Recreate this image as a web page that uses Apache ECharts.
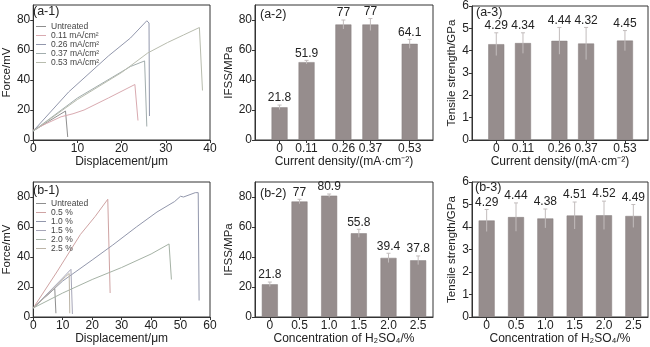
<!DOCTYPE html>
<html><head><meta charset="utf-8">
<script src="https://cdn.jsdelivr.net/npm/echarts@6/dist/echarts.min.js"></script>
<style>html,body{margin:0;padding:0;background:#fff}#c{width:650px;height:347px}</style>
</head><body><div id="c"></div>
<script>
// ---- (a-1) force-displacement curves, current density series ----
var aNames = ['Untreated', '0.11 mA/cm²', '0.26 mA/cm²', '0.37 mA/cm²', '0.53 mA/cm²'];
var aUntreated = [[0,6],[3.5,12.5],[7.3,19.3],[7.6,19],[7.8,2]];
var a011 = [[0,6.7],[3,11],[6.3,15.5],[9,17.5],[11.5,20],[17,28],[23,37],[23.3,36.5],[23.7,13]];
var a026 = [[0,6],[8,32],[17,56],[22,68],[25.7,79.5],[26.2,78],[26.3,16]];
var a037 = [[0,6],[10,28],[18,42],[22,49],[25.2,52.7],[25.5,52],[25.7,9]];
var a053 = [[0,6],[10,27],[20,45],[25.9,58],[30.4,65],[34,70],[37.6,75],[38,74],[38.3,33]];
// ---- (b-1) force-displacement curves, H2SO4 concentration series ----
var bNames = ['Untreated', '0.5 %', '1.0 %', '1.5 %', '2.0 %', '2.5 %'];
var bUntreated = [[0,6],[3.5,12.5],[7.3,19],[7.5,18.5],[7.7,2.5]];
var b05 = [[0,6],[8,30],[16,55],[21,67],[25.3,78.5],[25.8,78],[26.1,16]];
var b10 = [[0,6],[10,24],[20,38],[27,48],[35,60],[42,70],[48,77],[50,80.5],[51,80],[55,82.9],[56,82.9],[56.3,11]];
var b15 = [[0,6],[5,16],[10,26],[12.8,31.8],[13.1,31],[13.3,2]];
var b20 = [[0,6],[10,16],[20,25],[30,33],[40,42],[46.1,48.7],[46.5,48],[46.9,25]];
var b25 = [[0,6],[6,17],[11,27],[12.2,29],[12.4,2.5]];
// ---- (a-2)/(a-3) bars vs current density ----
var currentDensity = [0, 0.11, 0.26, 0.37, 0.53];
var ifssA = [21.8, 51.9, 77, 77, 64.1];
var ifssAErr = [1.5, 1.2, 3, 4, 3];
var tensileA = [4.29, 4.34, 4.44, 4.32, 4.45];
var tensileAErr = [0.51, 0.46, 0.6, 0.72, 0.45];
// ---- (b-2)/(b-3) bars vs H2SO4 concentration ----
var concentration = ['0', '0.5', '1.0', '1.5', '2.0', '2.5'];
var ifssB = [21.8, 77, 80.9, 55.8, 39.4, 37.8];
var ifssBErr = [1.5, 1.5, 1.1, 2.7, 3.1, 2.9];
var tensileB = [4.29, 4.44, 4.38, 4.51, 4.52, 4.49];
var tensileBErr = [0.49, 0.63, 0.42, 0.6, 0.63, 0.51];

var FONT = 'Liberation Sans';
var AX = '#333';
var aColors = ['#8e8e8e', '#d9aab0', '#9297ac', '#a2adad', '#b8bcae'];
var bColors = ['#8e8e8e', '#cfa3a3', '#9297ac', '#a6a6b8', '#a5b2a5', '#bcb4a6'];
var BAR = '#968d8d';

function xAx(grid, type, min, max, interval, name, extra) {
  var o = {
    gridIndex: grid, type: type, min: min, max: max, interval: interval,
    name: name, nameLocation: 'middle', nameGap: 16,
    nameTextStyle: {fontFamily: FONT, fontSize: 12, color: '#222'},
    axisLine: {show: true, onZero: false, lineStyle: {color: AX, width: 1}},
    axisTick: {show: true, inside: false, length: 3, lineStyle: {color: AX}},
    axisLabel: {fontFamily: FONT, fontSize: 12, color: '#222', margin: 3},
    splitLine: {show: false}
  };
  for (var k in extra) o[k] = extra[k];
  return o;
}
function yAx(grid, max, interval, name, gap, showMax) {
  return {
    gridIndex: grid, type: 'value', min: 0, max: max, interval: interval,
    name: name, nameLocation: 'middle', nameGap: gap,
    nameTextStyle: {fontFamily: FONT, fontSize: 11.5, color: '#222'},
    axisLine: {show: true, onZero: false, lineStyle: {color: AX, width: 1}},
    axisTick: {show: true, inside: false, length: 3, lineStyle: {color: AX}},
    axisLabel: {fontFamily: FONT, fontSize: 12, color: '#222', margin: 3, showMaxLabel: showMax},
    splitLine: {show: false}
  };
}

function errRender(vals, errs) {
  return function (params, api) {
    var i = params.dataIndex;
    var x = api.value(0), m = api.value(1), e = api.value(2);
    var top = api.coord([x, m + e]), bot = api.coord([x, m - e]);
    var st = {stroke: '#c2bcbc', lineWidth: 1};
    return {type: 'group', children: [
      {type: 'line', shape: {x1: top[0], y1: top[1], x2: bot[0], y2: bot[1]}, style: st},
      {type: 'line', shape: {x1: top[0] - 2, y1: top[1], x2: top[0] + 2, y2: top[1]}, style: st},
      {type: 'text', x: top[0], y: top[1] - 1, style: {text: String(vals[i]), align: 'center', verticalAlign: 'bottom', fontSize: 12, fontFamily: FONT, fill: '#222'}}
    ]};
  };
}

var grids = [
  {left: 30, top: 5, width: 180, height: 135},
  {left: 255, top: 5, width: 178, height: 135},
  {left: 472, top: 5, width: 176, height: 135},
  {left: 30, top: 182, width: 180, height: 135},
  {left: 255, top: 182, width: 178, height: 135},
  {left: 472, top: 182, width: 176, height: 135}
].map(function (g) { g.show = true; g.borderColor = AX; g.borderWidth = 1; g.backgroundColor = 'transparent'; return g; });

var cdExtra = {
  axisLabel: {fontFamily: FONT, fontSize: 12, color: '#222', margin: 3, customValues: currentDensity, formatter: function (v) { return String(v); }},
  axisTick: {show: true, length: 3, lineStyle: {color: AX}, customValues: currentDensity}
};
var catTick = {show: true, length: 3, alignWithLabel: true, lineStyle: {color: AX}};

var xAxes = [
  xAx(0, 'value', 0, 40, 10, 'Displacement/μm', {}),
  xAx(1, 'value', -0.1, 0.625, null, 'Current density/(mA·cm⁻²)', cdExtra),
  xAx(2, 'value', -0.1, 0.625, null, 'Current density/(mA·cm⁻²)', cdExtra),
  xAx(3, 'value', 0, 60, 10, 'Displacement/μm', {}),
  xAx(4, 'category', null, null, null, 'Concentration of H₂SO₄/%', {data: concentration, axisTick: catTick}),
  xAx(5, 'category', null, null, null, 'Concentration of H₂SO₄/%', {data: concentration, axisTick: catTick})
];
var yAxes = [
  yAx(0, 90, 20, 'Force/mV', 17, false),
  yAx(1, 90, 20, 'IFSS/MPa', 18, false),
  yAx(2, 6, 1, 'Tensile strength/GPa', 14, true),
  yAx(3, 90, 20, 'Force/mV', 17, false),
  yAx(4, 90, 20, 'IFSS/MPa', 18, false),
  yAx(5, 6, 1, 'Tensile strength/GPa', 14, true)
];

var series = [];
[aUntreated, a011, a026, a037, a053].forEach(function (d, i) {
  series.push({type: 'line', name: aNames[i], xAxisIndex: 0, yAxisIndex: 0, data: d, showSymbol: false, symbol: 'none',
    lineStyle: {color: aColors[i], width: 1}, itemStyle: {color: aColors[i]}, silent: true, animation: false});
});
[bUntreated, b05, b10, b15, b20, b25].forEach(function (d, i) {
  series.push({type: 'line', name: bNames[i] + (i === 0 ? ' ' : ''), xAxisIndex: 3, yAxisIndex: 3, data: d, showSymbol: false, symbol: 'none',
    lineStyle: {color: bColors[i], width: 1}, itemStyle: {color: bColors[i]}, silent: true, animation: false});
});
function barSeries(ax, data) {
  return {type: 'bar', xAxisIndex: ax, yAxisIndex: ax, data: data, barWidth: 16,
    itemStyle: {color: BAR, borderColor: '#857c7c', borderWidth: 0.5}, animation: false, silent: true};
}
series.push(barSeries(1, currentDensity.map(function (x, i) { return [x, ifssA[i]]; })));
series.push(barSeries(2, currentDensity.map(function (x, i) { return [x, tensileA[i]]; })));
series.push(barSeries(4, ifssB));
series.push(barSeries(5, tensileB));
function errSeries(ax, xs, vals, errs) {
  return {type: 'custom', xAxisIndex: ax, yAxisIndex: ax, renderItem: errRender(vals, errs),
    data: vals.map(function (v, i) { return [xs[i], v, errs[i]]; }), z: 5, animation: false, silent: true};
}
series.push(errSeries(1, currentDensity, ifssA, ifssAErr));
series.push(errSeries(2, currentDensity, tensileA, tensileAErr));
series.push(errSeries(4, concentration.map(function (c, i) { return i; }), ifssB, ifssBErr));
series.push(errSeries(5, concentration.map(function (c, i) { return i; }), tensileB, tensileBErr));

function legendOpt(names, top, lh) {
  return {data: names, orient: 'vertical', left: 36, top: top, itemWidth: 10, itemHeight: 1, itemGap: 0,
    icon: 'rect', padding: 0, selectedMode: false,
    textStyle: {fontFamily: FONT, fontSize: 8.5, lineHeight: lh, color: '#444'}};
}
function panelTitle(t, l, tp) {
  return {text: t, left: l, top: tp, padding: 0, textStyle: {fontFamily: FONT, fontSize: 12.5, fontWeight: 'normal', color: '#222'}};
}

var chart = echarts.init(document.getElementById('c'), null, {renderer: 'canvas'});
chart.setOption({
  backgroundColor: '#fff',
  animation: false,
  title: [panelTitle('(a-1)', 33, 5), panelTitle('(a-2)', 260, 8), panelTitle('(a-3)', 476, 6),
          panelTitle('(b-1)', 33, 184), panelTitle('(b-2)', 260, 187), panelTitle('(b-3)', 475, 181)],
  legend: [legendOpt(aNames, 22, 7.75), legendOpt(bNames.map(function (n, i) { return n + (i === 0 ? ' ' : ''); }), 199, 6.8)],
  grid: grids,
  xAxis: xAxes,
  yAxis: yAxes,
  series: series
});
</script></body></html>
